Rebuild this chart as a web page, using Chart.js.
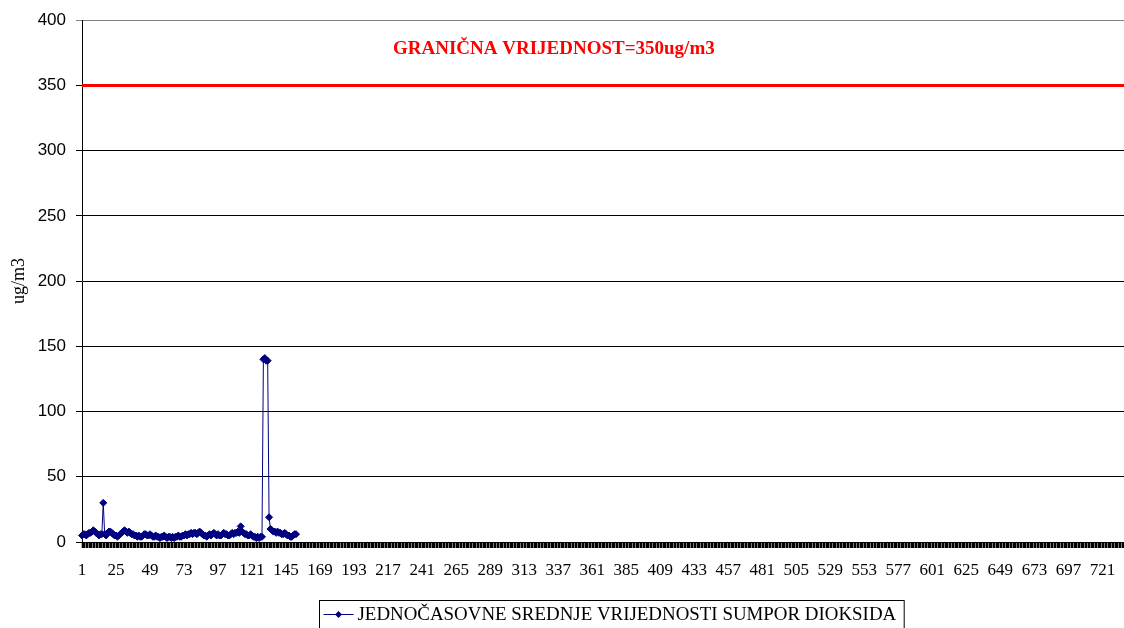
<!DOCTYPE html>
<html>
<head>
<meta charset="utf-8">
<script src="https://cdn.jsdelivr.net/npm/chart.js@4"></script>
<style>
  html, body { margin: 0; padding: 0; background: #fff; overflow: hidden; }
  #wrap { width: 1124px; height: 628px; overflow: hidden; position: relative; }
  #wrap div { position: absolute; left: 0; top: 0; width: 1147px; height: 650px; }
</style>
</head>
<body>
<div id="wrap"><div><canvas id="so2-chart"></canvas></div></div>
<script>
// hours of the month (categories 1..744)
const hours = Array.from({ length: 744 }, (_, i) => i + 1)
const xTickLabels = [1, 25, 49, 73, 97, 121, 145, 169, 193, 217, 241, 265, 289, 313, 337, 361, 385, 409, 433, 457, 481, 505, 529, 553, 577, 601, 625, 649, 673, 697, 721]
const yTickLabels = [0, 50, 100, 150, 200, 250, 300, 350, 400]

// hourly SO2 means, ug/m3
const so2Values = [
    5, 6, 6, 5, 6, 7, 7, 8, 9, 8, 7, 6, 5, 6, 6,
    30, 6, 5, 7, 8, 8, 7, 6, 5, 5, 4, 5, 6, 7, 8,
    9, 8, 7, 8, 7, 6, 6, 5, 5, 4, 5, 4, 4, 5, 6,
    6, 5, 5, 6, 5, 4, 4, 5, 4, 4, 3, 4, 4, 5, 4,
    3, 4, 4, 3, 4, 3, 4, 4, 5, 4, 4, 5, 5, 6, 5,
    6, 6, 7, 6, 7, 7, 6, 7, 8, 7, 6, 5, 5, 4, 5,
    6, 5, 6, 7, 6, 5, 6, 5, 5, 6, 7, 6, 6, 5, 5,
    6, 7, 6, 7, 7, 8, 7, 12, 8, 7, 6, 6, 5, 5, 6,
    5, 4, 4, 3, 4, 3, 4, 4, 140, 141, 139, 139, 19, 10, 9,
    8, 8, 7, 8, 7, 7, 6, 6, 7, 6, 5, 5, 4, 4, 5, 6, 6
]

const limitValue = 350
const limitText = `GRANIČNA VRIJEDNOST=${limitValue}ug/m3`
const seriesLabel = `JEDNOČASOVNE SREDNJE VRIJEDNOSTI SUMPOR DIOKSIDA`

const navy = `#000080`

const extrasPlugin = {
    id: `extras`,
    afterDraw(chart) {
        const ctx = chart.ctx
        const area = chart.chartArea
        const y = chart.scales.y

        // limit caption
        ctx.save()
        ctx.fillStyle = `#ff0000`
        ctx.font = `bold 19px "Liberation Serif"`
        ctx.textBaseline = `middle`
        ctx.textAlign = `left`
        ctx.fillText(limitText, area.left + 311, y.getPixelForValue(378))
        ctx.restore()

        // legend box
        ctx.save()
        ctx.font = `18px "Liberation Serif"`
        const stretch = 1.05
        const textW = ctx.measureText(seriesLabel).width * stretch
        const sampleW = 30
        const boxW = 4 + sampleW + 4 + textW + 8
        const cx = (area.left + area.right) / 2 + 3
        const left = Math.round(cx - boxW / 2) + 0.5
        const top = area.bottom + 58.5
        ctx.strokeStyle = `#000`
        ctx.lineWidth = 1
        ctx.strokeRect(left, top, boxW, 40)
        const my = top + 14
        ctx.strokeStyle = navy
        ctx.beginPath()
        ctx.moveTo(left + 4, my)
        ctx.lineTo(left + 4 + sampleW, my)
        ctx.stroke()
        const px = left + 4 + sampleW / 2
        ctx.fillStyle = navy
        ctx.beginPath()
        ctx.moveTo(px, my - 3.5)
        ctx.lineTo(px + 3.5, my)
        ctx.lineTo(px, my + 3.5)
        ctx.lineTo(px - 3.5, my)
        ctx.closePath()
        ctx.fill()
        ctx.fillStyle = `#000`
        ctx.textBaseline = `middle`
        ctx.translate(left + 4 + sampleW + 4, my + 1)
        ctx.scale(stretch, 1)
        ctx.fillText(seriesLabel, 0, 0)
        ctx.restore()
    }
}

const chart_ctx = document.getElementById(`so2-chart`).getContext(`2d`)
new Chart(chart_ctx, {
    type: `line`,
    data: {
        labels: hours,
        datasets: [{
            label: `limit`,
            data: [{ x: hours[0], y: limitValue }, { x: hours[hours.length - 1], y: limitValue }],
            borderColor: `#ff0000`,
            borderWidth: 3,
            pointRadius: 0,
            order: 2
        }, {
            label: seriesLabel,
            data: so2Values,
            borderColor: navy,
            backgroundColor: navy,
            borderWidth: 1,
            pointStyle: `rectRot`,
            pointRadius: 3.5,
            pointBorderWidth: 1,
            tension: 0,
            order: 1
        }]
    },
    options: {
        responsive: true,
        maintainAspectRatio: false,
        animation: false,
        layout: { padding: { left: 0, top: 20, right: 5, bottom: 68 } },
        plugins: {
            legend: { display: false },
            tooltip: { enabled: false }
        },
        scales: {
            x: {
                offset: false,
                afterFit: (scale) => { scale.height = 40 },
                grid: {
                    drawOnChartArea: false,
                    drawTicks: true,
                    tickLength: 6,
                    tickWidth: 1.6,
                    color: `#000`
                },
                border: { color: `#000`, width: 1 },
                ticks: {
                    autoSkip: false,
                    maxRotation: 0,
                    minRotation: 0,
                    padding: 12,
                    color: `#000`,
                    font: { family: `"Liberation Serif"`, size: 17 },
                    callback: (value, index) => xTickLabels.includes(hours[index]) ? String(hours[index]) : ``
                }
            },
            y: {
                min: 0,
                max: 400,
                afterFit: (scale) => { scale.width = 82 },
                afterBuildTicks: (scale) => { scale.ticks = yTickLabels.map(v => ({ value: v })) },
                grid: {
                    color: (c) => c.tick && c.tick.value === 400 ? `#808080` : `#000`,
                    tickLength: 6,
                    lineWidth: 1
                },
                border: { color: `#000`, width: 1 },
                ticks: {
                    padding: 10,
                    color: `#000`,
                    font: { family: `"Liberation Sans"`, size: 17 }
                },
                title: {
                    display: true,
                    text: `ug/m3`,
                    color: `#000`,
                    padding: { top: 8, bottom: 0 },
                    font: { family: `"Liberation Serif"`, size: 18 }
                }
            }
        }
    },
    plugins: [extrasPlugin]
})
</script>
</body>
</html>
